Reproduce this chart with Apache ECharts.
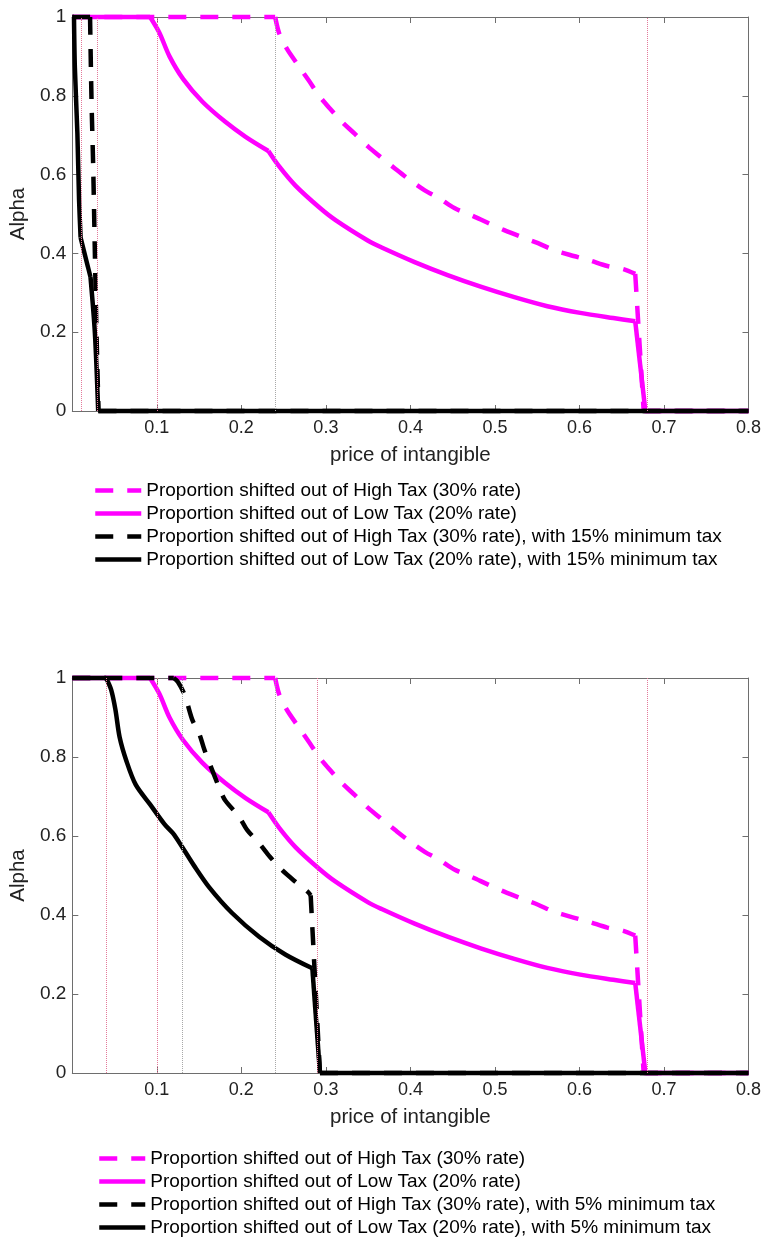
<!DOCTYPE html>
<html>
<head>
<meta charset="utf-8">
<script src="https://cdn.jsdelivr.net/npm/echarts@6/dist/echarts.min.js"></script>
<style>
  html, body { margin: 0; padding: 0; background: #fff; }
  #main { width: 764px; height: 1242px; }
</style>
</head>
<body>
<div id="main"></div>
<script>
// shared magenta curves (same in both panels)
var highTaxX = [0, 0.24, 0.245, 0.254, 0.266, 0.28, 0.292, 0.305, 0.319, 0.334, 0.35, 0.364, 0.382, 0.397, 0.417, 0.434, 0.452, 0.472, 0.492, 0.511, 0.531, 0.551, 0.569, 0.589, 0.611, 0.633, 0.652, 0.666, 0.676, 0.8];
var highTaxY = [1, 1, 0.957, 0.919, 0.881, 0.838, 0.80, 0.767, 0.734, 0.704, 0.671, 0.646, 0.615, 0.59, 0.56, 0.54, 0.515, 0.497, 0.477, 0.459, 0.442, 0.426, 0.409, 0.396, 0.383, 0.368, 0.36, 0.348, 0, 0];
var highTaxCorners = [1, 27, 28];

var lowTaxX = [0, 0.092, 0.103, 0.115, 0.131, 0.154, 0.181, 0.205, 0.232, 0.245, 0.264, 0.292, 0.311, 0.35, 0.366, 0.405, 0.444, 0.484, 0.523, 0.562, 0.601, 0.64, 0.666, 0.678, 0.8];
var lowTaxY = [1, 1, 0.96, 0.90, 0.843, 0.785, 0.734, 0.696, 0.66, 0.62, 0.572, 0.517, 0.485, 0.432, 0.415, 0.378, 0.345, 0.315, 0.289, 0.266, 0.249, 0.236, 0.228, 0, 0];
var lowTaxCorners = [1, 8, 22, 23];

// top panel: 15% minimum tax
var highMin15X = [0, 0.021, 0.0227, 0.0247, 0.0267, 0.0286, 0.031, 0.8];
var highMin15Y = [1, 1, 0.79, 0.62, 0.40, 0.2, 0, 0];
var highMin15Corners = [1, 6];
var lowMin15X = [0, 0.002, 0.003, 0.006, 0.008, 0.0098, 0.0215, 0.0267, 0.0306, 0.8];
var lowMin15Y = [1, 1, 0.873, 0.705, 0.535, 0.44, 0.34, 0.198, 0, 0];
var lowMin15Corners = [1, 5, 6, 8];

// bottom panel: 5% minimum tax
var highMin5X = [0, 0.12, 0.125, 0.133, 0.142, 0.15, 0.156, 0.164, 0.175, 0.181, 0.197, 0.207, 0.221, 0.234, 0.248, 0.264, 0.279, 0.282, 0.293, 0.8];
var highMin5Y = [1, 1, 0.99, 0.957, 0.894, 0.86, 0.82, 0.775, 0.716, 0.69, 0.65, 0.615, 0.582, 0.547, 0.514, 0.484, 0.458, 0.45, 0, 0];
var highMin5Corners = [1, 17, 18];
var lowMin5X = [0, 0.04, 0.046, 0.051, 0.056, 0.064, 0.075, 0.092, 0.109, 0.119, 0.13, 0.144, 0.162, 0.189, 0.221, 0.252, 0.284, 0.293, 0.8];
var lowMin5Y = [1, 1, 0.97, 0.92, 0.85, 0.79, 0.73, 0.68, 0.63, 0.607, 0.572, 0.525, 0.47, 0.405, 0.345, 0.30, 0.265, 0, 0];
var lowMin5Corners = [1, 16, 17];

// dotted reference lines
var topRefX = [0.0102, 0.0314, 0.101, 0.242, 0.676];
var topRefKind = ['r', 'r', 'r', 'g', 'r'];
var botRefX = [0.0404, 0.102, 0.132, 0.242, 0.294, 0.676];
var botRefKind = ['r', 'r', 'g', 'g', 'r', 'r'];

var nameHigh = 'Proportion shifted out of High Tax (30% rate)';
var nameLow = 'Proportion shifted out of Low Tax (20% rate)';
var nameHigh15 = 'Proportion shifted out of High Tax (30% rate), with 15% minimum tax';
var nameLow15 = 'Proportion shifted out of Low Tax (20% rate), with 15% minimum tax';
var nameHigh5 = 'Proportion shifted out of High Tax (30% rate), with 5% minimum tax';
var nameLow5 = 'Proportion shifted out of Low Tax (20% rate), with 5% minimum tax';

var FONT = '"Liberation Sans", Arial, Helvetica, sans-serif';
var BOX = '#6e6e6e';
var MAGENTA = '#ff00ff';
var DASH = [18, 14];

function pairs(xs, ys) {
    return xs.map(function (x, i) { return [x, ys[i]]; });
}

function refLines(xs, kinds) {
    return xs.map(function (x, i) {
        return {
            xAxis: x,
            lineStyle: { color: kinds[i] === 'r' ? '#e3799a' : '#a8a8a8', type: 'dotted', width: 1 }
        };
    });
}

// one curve = several line pieces split at its corners, so smoothing never rounds a corner
function curve(name, idx, xs, ys, corners, color, dashed, marks) {
    var pts = pairs(xs, ys);
    var cuts = [0].concat(corners, [pts.length - 1]);
    var out = [];
    for (var k = 0; k < cuts.length - 1; k++) {
        var seg = pts.slice(cuts[k], cuts[k + 1] + 1);
        var s = {
            name: name,
            type: 'line',
            xAxisIndex: idx,
            yAxisIndex: idx,
            data: seg,
            symbol: 'none',
            smooth: seg.length > 2 ? 0.3 : false,
            clip: false,
            animation: false,
            lineStyle: { color: color, width: 4.5, type: dashed ? DASH : 'solid', cap: 'butt', join: 'miter' },
            itemStyle: { color: color }
        };
        if (marks && k === 0) {
            s.markLine = { silent: true, symbol: 'none', label: { show: false }, animation: false, data: marks };
        }
        out.push(s);
    }
    return out;
}

function mainX(grid) {
    return {
        type: 'value', gridIndex: grid, min: 0, max: 0.8, interval: 0.1,
        name: 'price of intangible', nameLocation: 'middle', nameGap: 34,
        nameTextStyle: { fontFamily: FONT, fontSize: 20.5, color: '#222' },
        axisLine: { show: true, onZero: false, lineStyle: { color: BOX, width: 1 } },
        axisTick: { show: true, inside: true, length: 6, lineStyle: { color: BOX } },
        axisLabel: {
            margin: 8, fontFamily: FONT, fontSize: 18, color: '#222',
            formatter: function (v) { return v === 0 ? '' : v.toFixed(1); }
        },
        splitLine: { show: false }
    };
}
function boxX(grid) {
    return {
        type: 'value', gridIndex: grid, position: 'top', min: 0, max: 0.8, interval: 0.1,
        axisLine: { show: true, onZero: false, lineStyle: { color: BOX, width: 1 } },
        axisTick: { show: true, inside: true, length: 6, lineStyle: { color: BOX } },
        axisLabel: { show: false }, splitLine: { show: false }
    };
}
function mainY(grid) {
    return {
        type: 'value', gridIndex: grid, min: 0, max: 1, interval: 0.2,
        name: 'Alpha', nameLocation: 'middle', nameGap: 35,
        nameTextStyle: { fontFamily: FONT, fontSize: 20.5, color: '#222' },
        axisLine: { show: true, onZero: false, lineStyle: { color: BOX, width: 1 } },
        axisTick: { show: true, inside: true, length: 6, lineStyle: { color: BOX } },
        axisLabel: { margin: 6, fontFamily: FONT, fontSize: 19, color: '#222' },
        splitLine: { show: false }
    };
}
function boxY(grid) {
    return {
        type: 'value', gridIndex: grid, position: 'right', min: 0, max: 1, interval: 0.2,
        axisLine: { show: true, onZero: false, lineStyle: { color: BOX, width: 1 } },
        axisTick: { show: true, inside: true, length: 6, lineStyle: { color: BOX } },
        axisLabel: { show: false }, splitLine: { show: false }
    };
}
function legendAt(left, top, names) {
    return {
        orient: 'vertical', left: left, top: top, padding: 0,
        itemWidth: 46, itemHeight: 14, itemGap: 4, selectedMode: false,
        itemStyle: { opacity: 0 },
        lineStyle: { width: 4.5 },
        textStyle: { fontFamily: FONT, fontSize: 19, color: '#000', lineHeight: 19 },
        data: names
    };
}

var series = [].concat(
    curve(nameHigh, 0, highTaxX, highTaxY, highTaxCorners, MAGENTA, true, refLines(topRefX, topRefKind)),
    curve(nameLow, 0, lowTaxX, lowTaxY, lowTaxCorners, MAGENTA, false),
    curve(nameHigh15, 0, highMin15X, highMin15Y, highMin15Corners, '#000', true),
    curve(nameLow15, 0, lowMin15X, lowMin15Y, lowMin15Corners, '#000', false),
    curve(nameHigh, 1, highTaxX, highTaxY, highTaxCorners, MAGENTA, true, refLines(botRefX, botRefKind)),
    curve(nameLow, 1, lowTaxX, lowTaxY, lowTaxCorners, MAGENTA, false),
    curve(nameHigh5, 1, highMin5X, highMin5Y, highMin5Corners, '#000', true),
    curve(nameLow5, 1, lowMin5X, lowMin5Y, lowMin5Corners, '#000', false)
);

var chart = echarts.init(document.getElementById('main'), null, { renderer: 'canvas' });
chart.setOption({
    backgroundColor: '#fff',
    animation: false,
    grid: [
        { left: 69, top: 17, width: 680, height: 394 },
        { left: 69, top: 678, width: 680, height: 395 }
    ],
    xAxis: [mainX(0), mainX(1), boxX(0), boxX(1)],
    yAxis: [mainY(0), mainY(1), boxY(0), boxY(1)],
    legend: [
        legendAt(93, 481, [nameHigh, nameLow, nameHigh15, nameLow15]),
        legendAt(97, 1149, [nameHigh, nameLow, nameHigh5, nameLow5])
    ],
    series: series
});
</script>
</body>
</html>
